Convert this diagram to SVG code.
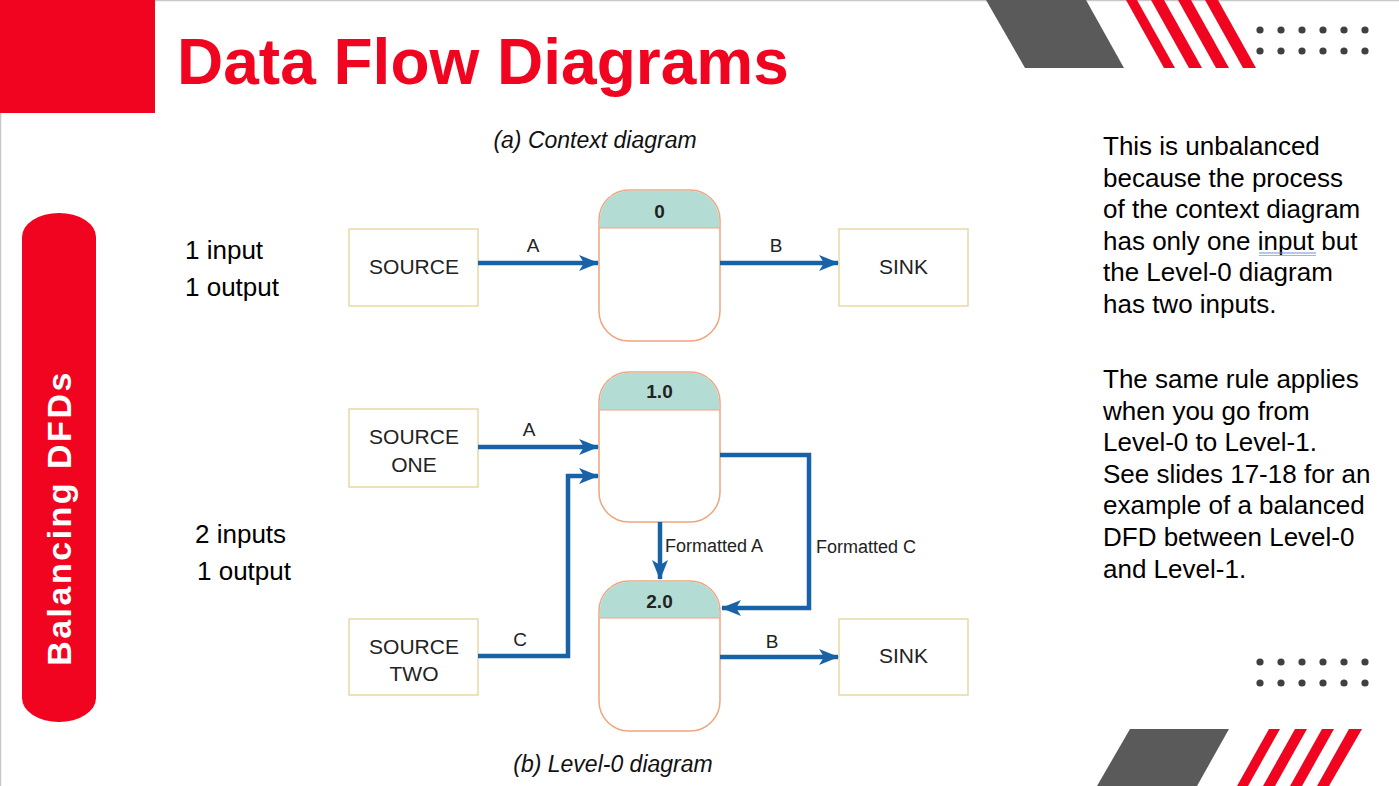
<svg xmlns="http://www.w3.org/2000/svg" width="1399" height="786" viewBox="0 0 1399 786">
<defs>
<style>
.body{font-family:"Liberation Sans",Arial,sans-serif;font-size:26px;fill:#000}
.cap{font-family:"Liberation Sans",Arial,sans-serif;font-size:23px;font-style:italic;fill:#111;text-anchor:middle}
.box{fill:#fff;stroke:#e5d399;stroke-width:1.3}
.proc{fill:#fff;stroke:#f0a57f;stroke-width:1.5}
.hdr{fill:#b3ddd4}
.bt{font-family:"Liberation Sans",Arial,sans-serif;font-size:21px;fill:#222;text-anchor:middle}
.pid{font-family:"Liberation Sans",Arial,sans-serif;font-size:19px;font-weight:bold;fill:#222;text-anchor:middle}
.lab{font-family:"Liberation Sans",Arial,sans-serif;font-size:18px;fill:#222}
.ltr{font-family:"Liberation Sans",Arial,sans-serif;font-size:19px;fill:#222;text-anchor:middle}
.flow{fill:none;stroke:#1862a8;stroke-width:4.5;marker-end:url(#ah)}
.red{fill:#f0041f}
.gray{fill:#5a5a5a}
.dot{fill:#404040}
</style>
<marker id="ah" viewBox="0 0 20 16" refX="19" refY="8" markerWidth="20" markerHeight="16" markerUnits="userSpaceOnUse" orient="auto">
<path d="M0,0 L20,8 L0,16 L5,8 Z" fill="#1862a8"/>
</marker>
<g id="dots">
<circle class="dot" cx="0" cy="0" r="3.6"/><circle class="dot" cx="21" cy="0" r="3.6"/><circle class="dot" cx="42" cy="0" r="3.6"/><circle class="dot" cx="63" cy="0" r="3.6"/><circle class="dot" cx="84" cy="0" r="3.6"/><circle class="dot" cx="105" cy="0" r="3.6"/>
<circle class="dot" cx="0" cy="21" r="3.6"/><circle class="dot" cx="21" cy="21" r="3.6"/><circle class="dot" cx="42" cy="21" r="3.6"/><circle class="dot" cx="63" cy="21" r="3.6"/><circle class="dot" cx="84" cy="21" r="3.6"/><circle class="dot" cx="105" cy="21" r="3.6"/>
</g>
</defs>
<rect width="1399" height="786" fill="#fff"/>
<!-- frame -->
<line x1="155" y1="0.5" x2="1399" y2="0.5" stroke="#c8c8c8" stroke-width="1.5"/>
<line x1="0.5" y1="113" x2="0.5" y2="786" stroke="#c8c8c8" stroke-width="1.5"/>
<rect class="red" x="0" y="0" width="155" height="113"/>
<text x="177" y="84" font-family="Liberation Sans, Arial, sans-serif" font-size="64" font-weight="bold" fill="#f0041f">Data Flow Diagrams</text>
<!-- top-right decoration -->
<polygon class="gray" points="986,0 1086,0 1124,68 1025,68"/>
<polygon class="red" points="1126,0 1137,0 1175,68 1164,68"/>
<polygon class="red" points="1151,0 1164,0 1202,68 1189,68"/>
<polygon class="red" points="1178,0 1191,0 1229,68 1216,68"/>
<polygon class="red" points="1205,0 1218,0 1256,68 1243,68"/>
<use href="#dots" x="1260" y="30"/>
<!-- bottom-right decoration -->
<use href="#dots" x="1260" y="662"/>
<polygon class="gray" points="1130,729 1229,729 1197,786 1097,786"/>
<polygon class="red" points="1269,729 1280,729 1248,786 1237,786"/>
<polygon class="red" points="1295,729 1307,729 1275,786 1263,786"/>
<polygon class="red" points="1322,729 1334,729 1302,786 1290,786"/>
<polygon class="red" points="1349,729 1362,729 1329,786 1317,786"/>
<!-- side pill -->
<g id="side-tab">
<rect class="red" x="22" y="213" width="74" height="509" rx="37" ry="24"/>
<text transform="translate(71,518) rotate(-90)" text-anchor="middle" font-family="Liberation Sans, Arial, sans-serif" font-size="34" font-weight="bold" letter-spacing="2.5" fill="#fff">Balancing DFDs</text>
</g>
<!-- captions -->
<text class="cap" x="595" y="148">(a) Context diagram</text>
<text class="cap" x="613" y="772">(b) Level-0 diagram</text>
<!-- left labels -->
<text class="body" x="185" y="259">1 input</text>
<text class="body" x="185" y="296">1 output</text>
<text class="body" x="195" y="543">2 inputs</text>
<text class="body" x="197" y="580">1 output</text>
<!-- right text -->
<g id="notes">
<text class="body" x="1103" y="155">This is unbalanced</text>
<text class="body" x="1103" y="186.6">because the process</text>
<text class="body" x="1103" y="218.2">of the context diagram</text>
<text class="body" x="1103" y="249.8">has only one input but</text>
<text class="body" x="1103" y="281.4">the Level-0 diagram</text>
<text class="body" x="1103" y="313">has two inputs.</text>
<line x1="1259" y1="253" x2="1316" y2="253" stroke="#6f8fd6" stroke-width="1"/>
<line x1="1259" y1="255.5" x2="1316" y2="255.5" stroke="#9fb4e6" stroke-width="1"/>
<text class="body" x="1103" y="388">The same rule applies</text>
<text class="body" x="1103" y="419.6">when you go from</text>
<text class="body" x="1103" y="451.2">Level-0 to Level-1.</text>
<text class="body" x="1103" y="482.8">See slides 17-18 for an</text>
<text class="body" x="1103" y="514.4">example of a balanced</text>
<text class="body" x="1103" y="546">DFD between Level-0</text>
<text class="body" x="1103" y="577.6">and Level-1.</text>
</g>
<!-- context diagram nodes -->
<g id="ctx-source">
<rect class="box" x="349" y="229" width="129" height="77"/>
<text class="bt" x="414" y="274">SOURCE</text>
</g>
<g id="ctx-process-0">
<rect class="proc" x="599" y="190" width="121" height="151" rx="30" ry="30"/>
<path class="hdr" d="M599.8,228 V220 A29.2,29.2 0 0 1 629,190.8 H690 A29.2,29.2 0 0 1 719.2,220 V228 Z"/>
<line x1="599" y1="228" x2="720" y2="228" stroke="#f0a57f" stroke-width="1"/>
<text class="pid" x="659.5" y="218">0</text>
</g>
<g id="ctx-sink">
<rect class="box" x="839" y="229" width="129" height="77"/>
<text class="bt" x="903.5" y="274">SINK</text>
</g>
<!-- level-0 nodes -->
<g id="l0-source-one">
<rect class="box" x="349" y="409" width="129" height="78"/>
<text class="bt" x="414" y="444">SOURCE</text>
<text class="bt" x="414" y="472">ONE</text>
</g>
<g id="l0-source-two">
<rect class="box" x="349" y="619" width="129" height="76"/>
<text class="bt" x="414" y="654">SOURCE</text>
<text class="bt" x="414" y="681">TWO</text>
</g>
<g id="l0-process-1">
<rect class="proc" x="599" y="372" width="121" height="150" rx="30" ry="30"/>
<path class="hdr" d="M599.8,410 V402 A29.2,29.2 0 0 1 629,372.8 H690 A29.2,29.2 0 0 1 719.2,402 V410 Z"/>
<line x1="599" y1="410" x2="720" y2="410" stroke="#f0a57f" stroke-width="1"/>
<text class="pid" x="659.5" y="398">1.0</text>
</g>
<g id="l0-process-2">
<rect class="proc" x="599" y="581" width="121" height="150" rx="30" ry="30"/>
<path class="hdr" d="M599.8,618 V611 A29.2,29.2 0 0 1 629,581.8 H690 A29.2,29.2 0 0 1 719.2,611 V618 Z"/>
<line x1="599" y1="618" x2="720" y2="618" stroke="#f0a57f" stroke-width="1"/>
<text class="pid" x="659.5" y="608">2.0</text>
</g>
<g id="l0-sink">
<rect class="box" x="839" y="619" width="129" height="76"/>
<text class="bt" x="903.5" y="663">SINK</text>
</g>
<!-- connectors -->
<g id="connectors">
<path class="flow" d="M478,263 H598"/>
<path class="flow" d="M720,263 H838"/>
<path class="flow" d="M478,447 H598"/>
<path class="flow" d="M478,656 H568 V476 H598"/>
<path class="flow" d="M660,522 V579"/>
<path class="flow" d="M720,455 H809 V608 H722"/>
<path class="flow" d="M720,657 H838"/>
<text class="ltr" x="533" y="252">A</text>
<text class="ltr" x="776" y="252">B</text>
<text class="ltr" x="529" y="436">A</text>
<text class="ltr" x="520" y="646">C</text>
<text class="ltr" x="772" y="648">B</text>
<text class="lab" x="665" y="552">Formatted A</text>
<text class="lab" x="816" y="553">Formatted C</text>
</g>
</svg>
